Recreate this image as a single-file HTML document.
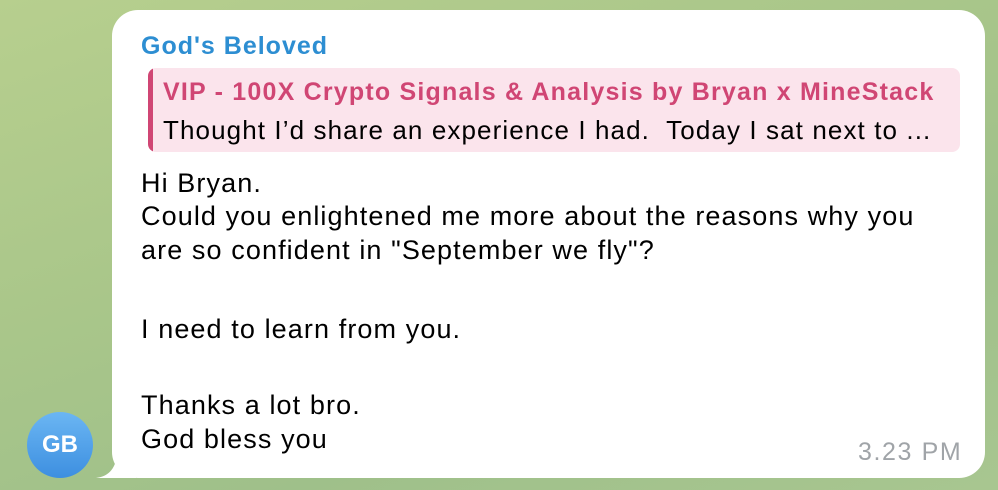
<!DOCTYPE html>
<html><head><meta charset="utf-8">
<style>
html,body{margin:0;padding:0;}
body{width:998px;height:490px;position:relative;overflow:hidden;
background:linear-gradient(160deg,#b7cf8e 0%,#a9c68a 40%,#9fc08a 70%,#a8c690 100%);
font-family:"Liberation Sans",Arial,sans-serif;}
.bubble{position:absolute;left:112px;top:10px;width:873px;height:468px;background:#fff;border-radius:26px;}
.tail{position:absolute;left:96px;top:450px;width:40px;height:28px;}
.avatar{position:absolute;left:27px;top:412px;width:66px;height:66px;border-radius:50%;
background:linear-gradient(180deg,#6bb6f3,#3d8fe0);color:#fff;font-size:24px;font-weight:bold;
display:flex;align-items:center;justify-content:center;}
.t{position:absolute;left:141px;font-size:27px;letter-spacing:1.1px;color:#000;white-space:nowrap;line-height:30px;}
.name{position:absolute;left:141px;top:31px;font-size:25px;letter-spacing:1px;font-weight:bold;color:#2d8ed2;line-height:30px;}
.quote{position:absolute;left:148px;top:68px;width:812px;height:84px;background:#fbe4ec;border-radius:8px;overflow:hidden;}
.quote .bar{position:absolute;left:0;top:0;width:5px;height:100%;background:#d04674;}
.qt{position:absolute;left:15px;top:9px;font-size:25px;letter-spacing:1.2px;font-weight:bold;color:#d04674;white-space:nowrap;line-height:30px;}
.qb{position:absolute;left:15px;top:47px;font-size:26px;letter-spacing:1.1px;color:#000;white-space:nowrap;line-height:30px;}
.time{position:absolute;left:858px;top:437px;font-size:25px;letter-spacing:1.6px;color:#a0a4a8;line-height:30px;}
</style></head><body>
<svg class="tail" viewBox="0 0 40 28"><path d="M0 28 C14 26 20 18 22 0 L40 0 L40 28 Z" fill="#fff"/></svg>
<div class="bubble"></div>
<div class="avatar">GB</div>
<div class="name">God's Beloved</div>
<div class="quote">
<div class="bar"></div>
<div class="qt">VIP - 100X Crypto Signals &amp; Analysis by Bryan x MineStack</div>
<div class="qb">Thought I’d share an experience I had.&nbsp; Today I sat next to ...</div>
</div>
<div class="t" style="top:168px">Hi Bryan.</div>
<div class="t" style="top:201px">Could you enlightened me more about the reasons why you</div>
<div class="t" style="top:235px">are so confident in "September we fly"?</div>
<div class="t" style="top:314px">I need to learn from you.</div>
<div class="t" style="top:390px">Thanks a lot bro.</div>
<div class="t" style="top:424px">God bless you</div>
<div class="time">3.23 PM</div>
</body></html>
